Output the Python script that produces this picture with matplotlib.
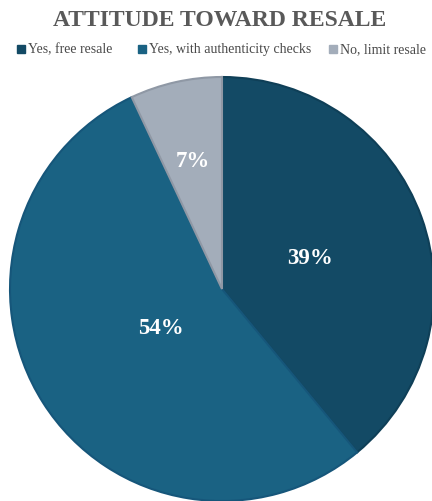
import matplotlib
matplotlib.use("Agg")
import matplotlib.pyplot as plt
from matplotlib.patches import Rectangle
import numpy as np

# survey shares
labels = ["Yes, free resale", "Yes, with authenticity checks", "No, limit resale"]
shares = [39, 54, 7]
colors = ["#134A65", "#1A6283", "#A3ADBA"]
edges = ["#0F3F57", "#16567A", "#8F98A5"]
label_r = [0.44, 0.34, 0.62]

# legend layout (pixels from the left)
key_x = [17, 138, 329]
text_x = [28, 149, 340]

plt.rcParams["font.family"] = ["Liberation Serif", "DejaVu Serif"]

W, H = 432, 502
fig = plt.figure(figsize=(W / 100, H / 100), dpi=100)

cx, cy, R = 222, 290, 212
ax = fig.add_axes([(cx - R) / W, (H - cy - R) / H, 2 * R / W, 2 * R / H])
wedges, _ = ax.pie(shares, colors=colors, startangle=90, counterclock=False,
                   radius=1, wedgeprops=dict(linewidth=1.5))
for w, ec in zip(wedges, edges):
    w.set_edgecolor(ec)
    w.set_clip_on(False)
ax.set_xlim(-1, 1)
ax.set_ylim(-1, 1)
ax.set_aspect("equal")
ax.axis("off")

# percentage labels
start = 90
for v, r in zip(shares, label_r):
    mid = np.deg2rad(start - v * 3.6 / 2)
    ax.text(r * np.cos(mid), r * np.sin(mid), f"{v}%", ha="center", va="center",
            color="white", fontsize=16.5, fontweight="bold")
    start -= v * 3.6

fig.text(0.5 + 4 / W, 1 - 20 / H, "ATTITUDE TOWARD RESALE", ha="center", va="center",
         fontsize=17, fontweight="bold", color="#595959")

# legend row
ly = 1 - 50 / H
for lab, c, kx, tx in zip(labels, colors, key_x, text_x):
    fig.patches.append(Rectangle((kx / W, ly - 4 / H), 8 / W, 8 / H,
                                 transform=fig.transFigure, color=c))
    fig.text(tx / W, ly, lab, ha="left", va="center", fontsize=10, color="#4a4a4a")

fig.savefig("out.png", dpi=100)
